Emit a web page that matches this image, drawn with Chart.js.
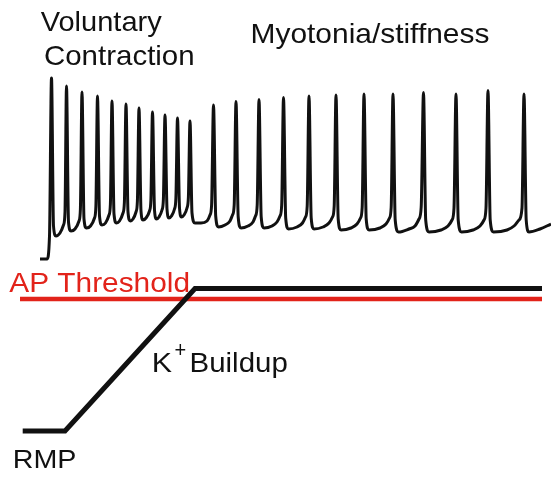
<!DOCTYPE html>
<html>
<head>
<meta charset="utf-8">
<script src="https://cdn.jsdelivr.net/npm/chart.js@4/dist/chart.umd.min.js"></script>
<style>
  html, body { margin: 0; padding: 0; background: #ffffff; }
  #wrap { width: 551px; height: 481px; }
</style>
</head>
<body>
<div id="wrap"><canvas id="c" width="551" height="481"></canvas></div>
<script>
// ---- Data (x = time position, y = trace level, axis drawn downward) ----
const traceTime = [
  40, 47, 49.5,
  51.5, 53.5, 56, 60, 63.5, 65,
  66.5, 68.5, 71, 75, 79, 80.4,
  82, 84, 86.5, 90.5, 94.5, 95.9,
  97.5, 99.5, 102, 105.5, 109, 110.4,
  112, 114, 116.5, 119.5, 123, 124.4,
  126, 128, 130.3, 133, 136, 137.4,
  139, 141, 143, 146, 149.5, 150.9,
  152.5, 154.5, 156.5, 159, 162, 163.4,
  165, 167, 169, 171.5, 174.5, 175.9,
  177.5, 179.5, 181.5, 184, 187, 188.4,
  190, 192, 195, 201, 207, 210, 211.6,
  213.5, 215.7, 218.5, 225, 230, 232.5, 234.2,
  236, 238.2, 241, 248, 253, 255.5, 257.2,
  259, 261.2, 264, 272, 277, 280, 281.7,
  283.5, 285.7, 288.5, 297, 302.5, 305.5, 307.2,
  309, 311.2, 314, 323, 329, 332.5, 334.2,
  336, 338.2, 341, 351, 357, 360.5, 362.2,
  364, 366.2, 369, 380, 386, 389.5, 391.2,
  393, 395.2, 398.5, 409, 415, 419, 421.2,
  423.5, 425.7, 429, 441, 448, 452, 454,
  456, 458.2, 461.5, 473, 480, 484, 486,
  488, 490.2, 493.5, 507, 514, 519, 522,
  524, 526.2, 529, 540, 551
];
const traceLevel = [
  259, 259, 236,
  78, 226, 236, 233, 225, 212,
  86, 222, 231, 229, 221, 209,
  92, 219, 228, 226, 218, 206,
  96, 216, 225, 223, 215, 204,
  101, 214, 223, 221, 213, 202,
  104, 212, 221, 219, 212, 201,
  108, 211, 220, 218, 211, 200,
  112, 210, 219, 217, 210, 199,
  115, 209, 218, 216, 209, 198,
  118, 208, 217, 215, 208, 197,
  121, 213, 223, 223, 221, 215, 205,
  105, 216, 227, 225, 221, 215, 205,
  101.5, 217, 228, 226, 222, 216, 205,
  99.5, 217, 228, 226, 222, 216, 205,
  97.5, 218, 229, 227, 223, 217, 206,
  96, 218, 229, 227, 223, 217, 206,
  95, 219, 230, 228, 224, 218, 207,
  94, 219, 230, 228, 224, 218, 207,
  94, 220, 232, 229, 226, 219, 207,
  92.5, 220, 232, 230, 226, 220, 208,
  94, 220, 232, 230, 226, 220, 208,
  90.5, 220, 232, 230, 226, 220, 208,
  94, 220, 232, 229, 224
];
const thresholdTime  = [20, 542];
const thresholdLevel = [299, 299];
const buildupTime  = [22.7, 65, 195, 542];
const buildupLevel = [431, 431, 288.5, 288.5];

const labelTexts = ["Voluntary", "Contraction", "Myotonia/stiffness", "AP Threshold", "K", "+", "Buildup", "RMP"];

// ---- Build chart data from the arrays ----
const pts = (xs, ys) => xs.map((x, i) => ({ x: x, y: ys[i] }));

const RED = '#e2231a';
const INK = '#111111';

const textPlugin = {
  id: 'textLabels',
  afterDatasetsDraw(chart, args, opts) {
    const ctx = chart.ctx;
    opts.items.forEach(it => {
      ctx.save();
      ctx.font = it.size + 'px "Liberation Sans", Arial, Helvetica, sans-serif';
      ctx.fillStyle = it.color;
      ctx.textBaseline = 'alphabetic';
      ctx.textAlign = 'left';
      const m = ctx.measureText(it.text);
      const inkW = m.actualBoundingBoxLeft + m.actualBoundingBoxRight;
      const s = it.w / inkW;
      ctx.translate(it.x + m.actualBoundingBoxLeft * s, it.base);
      ctx.scale(s, 1);
      ctx.fillText(it.text, 0, 0);
      ctx.restore();
    });
  }
};

new Chart(document.getElementById('c'), {
  type: 'line',
  data: {
    datasets: [
      {
        label: 'K+ Buildup',
        data: pts(buildupTime, buildupLevel),
        borderColor: INK,
        borderWidth: 5,
        tension: 0,
        pointRadius: 0,
        borderJoinStyle: 'miter',
        borderCapStyle: 'butt',
        order: 0
      },
      {
        label: 'AP Threshold',
        data: pts(thresholdTime, thresholdLevel),
        borderColor: RED,
        borderWidth: 4.5,
        tension: 0,
        pointRadius: 0,
        borderCapStyle: 'butt',
        order: 1
      },
      {
        label: 'Membrane potential',
        data: pts(traceTime, traceLevel),
        borderColor: INK,
        borderWidth: 3,
        cubicInterpolationMode: 'monotone',
        pointRadius: 0,
        borderJoinStyle: 'round',
        order: 2
      }
    ]
  },
  options: {
    responsive: false,
    animation: false,
    events: [],
    layout: { padding: 0 },
    plugins: {
      legend: { display: false },
      tooltip: { enabled: false },
      textLabels: {
        items: [
          { text: labelTexts[0], x: 40.7, base: 30.7, w: 121, size: 28, color: INK },
          { text: labelTexts[1], x: 45, base: 65, w: 148, size: 28, color: INK },
          { text: labelTexts[2], x: 252.7, base: 43.3, w: 235.6, size: 28, color: INK },
          { text: labelTexts[3], x: 9.3, base: 292.3, w: 179, size: 28, color: RED },
          { text: labelTexts[4], x: 154, base: 371.7, w: 18, size: 27, color: INK },
          { text: labelTexts[5], x: 175.5, base: 357, w: 10, size: 22, color: INK },
          { text: labelTexts[6], x: 191.7, base: 371.7, w: 95, size: 27, color: INK },
          { text: labelTexts[7], x: 15, base: 468.3, w: 60, size: 26, color: INK }
        ]
      }
    },
    scales: {
      x: { type: 'linear', min: 0, max: 551, display: false },
      y: { type: 'linear', min: 0, max: 481, reverse: true, display: false }
    }
  },
  plugins: [textPlugin]
});
</script>
</body>
</html>
